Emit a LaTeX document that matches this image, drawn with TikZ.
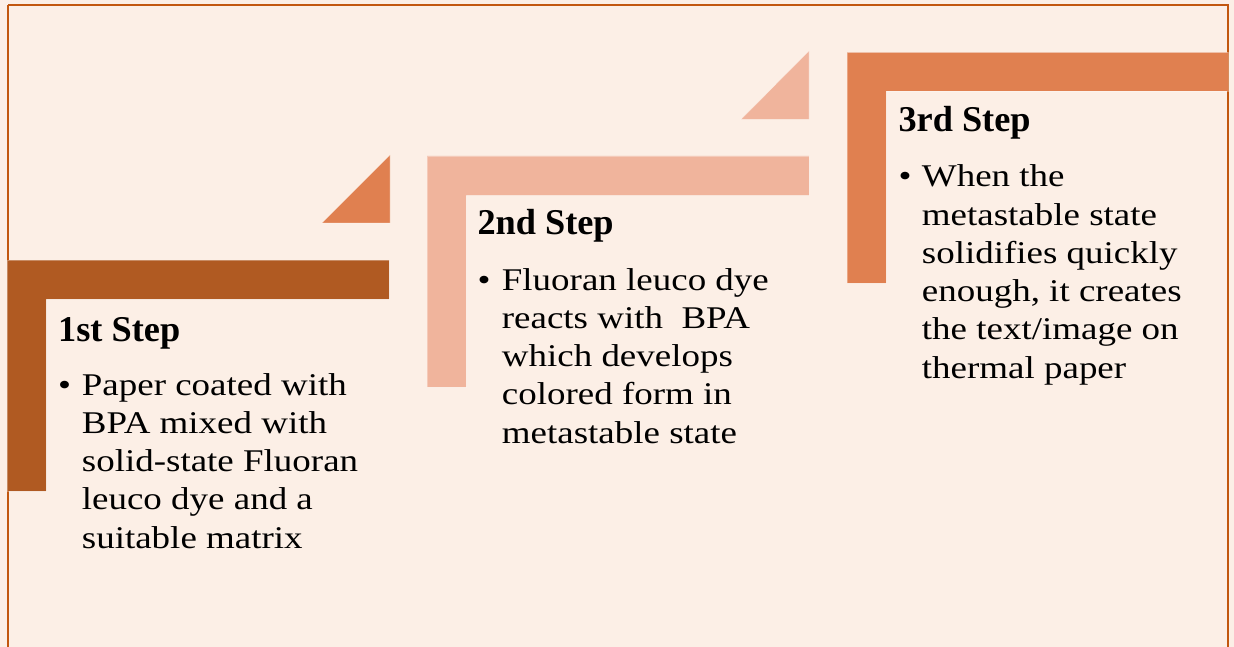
\documentclass[tikz,border=0pt]{standalone}
\usepackage{fontspec}
\setmainfont{Liberation Serif}
\newfontfamily\bodyfont[FakeStretch=1.17]{Liberation Serif}
\newfontfamily\headfont{Liberation Serif}
\definecolor{bgc}{HTML}{FCEFE6}
\definecolor{framec}{HTML}{C2570F}
\definecolor{darkc}{HTML}{B05A22}
\definecolor{midc}{HTML}{E08050}
\definecolor{lightc}{HTML}{F0B49C}
\tikzset{
  headtext/.style={anchor=base west, inner sep=0pt, font=\headfont\bfseries\fontsize{36.3}{40}\selectfont},
  bodytext/.style={anchor=base west, inner sep=0pt, align=left, font=\bodyfont\fontsize{31.6}{38.3}\selectfont},
  bullettext/.style={anchor=base west, inner sep=0pt, font=\bodyfont\fontsize{31.6}{38.3}\selectfont},
  stepshape/.style={draw=white, draw opacity=0.3, line width=0.6pt}
}
\begin{document}
\begin{tikzpicture}[x=1pt,y=-1pt]
\useasboundingbox (0,0) rectangle (1234,647);
\clip (0,0) rectangle (1234,647);
\fill[bgc] (0,0) rectangle (1234,647);
\draw[framec, line width=2.6pt] (8,5) -- (1228,5) -- (1228,700) (8,5) -- (8,700);
% step 1
\filldraw[stepshape, fill=darkc] (7,260) -- (389,260) -- (389,299) -- (46,299) -- (46,491) -- (7,491) -- cycle;
\filldraw[stepshape, fill=midc] (322,223) -- (390,223) -- (390,155) -- cycle;
% step 2
\filldraw[stepshape, fill=lightc] (427,156) -- (809,156) -- (809,195.5) -- (466,195.5) -- (466,387) -- (427,387) -- cycle;
\filldraw[stepshape, fill=lightc] (741,119.5) -- (809,119.5) -- (809,51) -- cycle;
% step 3
\filldraw[stepshape, fill=midc] (847,52.5) -- (1228,52.5) -- (1228,91) -- (886,91) -- (886,283) -- (847,283) -- cycle;
% texts (body nodes anchored at the baseline of their last line)
\node[headtext] (h1) at (58,341.7) {1st Step};
\node[bullettext] (b1) at (58,395) {•};
\node[bodytext] (t1) at (81.7,548.2) {Paper coated with\\BPA mixed with\\solid-state Fluoran\\leuco dye and a\\suitable matrix};
\node[headtext] (h2) at (477.3,235) {2nd Step};
\node[bullettext] (b2) at (477.5,290) {•};
\node[bodytext] (t2) at (501.7,443.2) {Fluoran leuco dye\\reacts with\ \ BPA\\which develops\\colored form in\\metastable state};
\node[headtext] (h3) at (898.3,131.7) {3rd Step};
\node[bullettext] (b3) at (898.3,186.7) {•};
\node[bodytext] (t3) at (921.7,378.2) {When the\\metastable state\\solidifies quickly\\enough, it creates\\the text/image on\\thermal paper};
\end{tikzpicture}
\end{document}
